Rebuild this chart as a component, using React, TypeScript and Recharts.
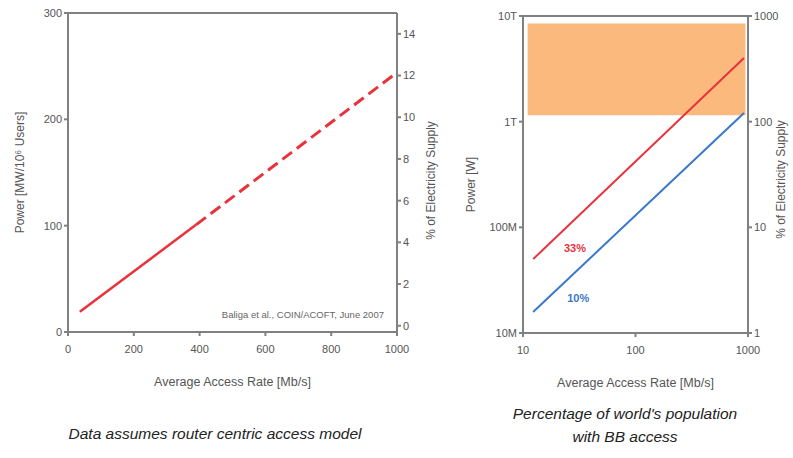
import React from 'react';
import {
  ComposedChart, Line, XAxis, YAxis, ReferenceArea, ReferenceDot, ReferenceLine,
} from 'recharts';

// ---- Left chart data ----
const leftXTicks = [0, 200, 400, 600, 800, 1000];
const leftYTicks = [0, 100, 200, 300];
const leftPctTicks = [0, 2, 4, 6, 8, 10, 12, 14];
const solidSeries = [
  { rate: 36, power: 19 },
  { rate: 390, power: 101 },
];
const dashedSeries = [
  { rate: 390, power: 101 },
  { rate: 1000, power: 244 },
];

// ---- Right chart data ----
const rightXTicks = [10, 100, 1000];
const rightYTicks = [1, 10, 100, 1000];
const rightYLabels = ['10M', '100M', '1T', '10T'];
const rightPctLabels = ['1', '10', '100', '1000'];
const series33 = [
  { rate: 12.3, power: 5.0 },
  { rate: 921, power: 400 },
];
const series10 = [
  { rate: 12.3, power: 1.58 },
  { rate: 921, power: 121 },
];
const band = { x1: 11, x2: 950, y1: 115, y2: 850 };

const FONT = '"Liberation Sans", Arial, sans-serif';
const AXIS = '#808080';
const TXT = '#555555';
const tickStyle = { fontSize: 11, fill: TXT, fontFamily: FONT };

const vlabel = (value: string, dx: number, dy = 0) => ({
  value,
  angle: -90,
  position: 'center' as const,
  dx,
  dy,
  style: { fontSize: 12, fill: TXT, fontFamily: FONT, textAnchor: 'middle' },
});

const xLabel = (value: string) => ({
  value,
  position: 'insideBottom' as const,
  offset: 8,
  style: { fontSize: 12.5, fill: TXT, fontFamily: FONT },
});

export default function App() {
  return (
    <div style={{ position: 'absolute', left: 0, top: 0, width: 793, height: 458, background: '#fff', fontFamily: FONT }}>
      <div style={{ position: 'absolute', left: 0, top: 0 }}>
        <ComposedChart width={460} height={400} margin={{ top: 13, right: 20, bottom: 6, left: 8 }}>
          <XAxis
            xAxisId="b"
            type="number"
            dataKey="rate"
            domain={[0, 1000]}
            ticks={leftXTicks}
            allowDataOverflow
            stroke={AXIS}
            strokeWidth={2}
            tick={tickStyle}
            tickSize={4}
            tickMargin={9}
            height={62}
            label={xLabel('Average Access Rate [Mb/s]')}
          />
          <YAxis
            yAxisId="l"
            type="number"
            domain={[0, 300]}
            ticks={leftYTicks}
            allowDataOverflow
            stroke={AXIS}
            strokeWidth={2}
            tick={tickStyle}
            tickSize={4}
            width={60}
            label={vlabel('Power [MW/10⁶ Users]', -18, 0)}
          />
          <YAxis
            yAxisId="r"
            orientation="right"
            type="number"
            domain={[-0.3, 15]}
            ticks={leftPctTicks}
            allowDataOverflow
            stroke={AXIS}
            strokeWidth={2}
            tick={tickStyle}
            tickSize={4}
            width={43}
            label={vlabel('% of Electricity Supply', 12, 8)}
          />
          <ReferenceLine xAxisId="b" yAxisId="l" y={300} stroke={AXIS} strokeWidth={2} />
          <Line xAxisId="b" yAxisId="l" data={solidSeries} dataKey="power" stroke="#e8323c" strokeWidth={2.5} dot={false} isAnimationActive={false} />
          <Line xAxisId="b" yAxisId="l" data={dashedSeries} dataKey="power" stroke="#e8323c" strokeWidth={3} strokeDasharray="12 6" dot={false} isAnimationActive={false} />
          <ReferenceDot
            xAxisId="b"
            yAxisId="l"
            x={714}
            y={16}
            r={0}
            label={{ value: 'Baliga et al., COIN/ACOFT, June 2007', position: 'center', style: { fontSize: 9.5, fill: '#666', fontFamily: FONT } }}
          />
        </ComposedChart>
      </div>

      <div style={{ position: 'absolute', left: 440, top: 0 }}>
        <ComposedChart width={353} height={400} margin={{ top: 16, right: 0, bottom: 5, left: 33 }}>
          <XAxis
            xAxisId="b"
            type="number"
            dataKey="rate"
            scale="log"
            domain={[10, 1000]}
            ticks={rightXTicks}
            allowDataOverflow
            stroke={AXIS}
            strokeWidth={2}
            tick={tickStyle}
            tickSize={4}
            tickMargin={9}
            height={62}
            label={xLabel('Average Access Rate [Mb/s]')}
          />
          <YAxis
            yAxisId="l"
            type="number"
            scale="log"
            domain={[1, 1000]}
            ticks={rightYTicks}
            allowDataOverflow
            stroke={AXIS}
            strokeWidth={2}
            tick={tickStyle}
            tickSize={4}
            tickFormatter={(v: number) => rightYLabels[rightYTicks.indexOf(v)] ?? ''}
            width={50}
            label={vlabel('Power [W]', -27, 10)}
          />
          <YAxis
            yAxisId="r"
            orientation="right"
            type="number"
            scale="log"
            domain={[1, 1000]}
            ticks={rightYTicks}
            allowDataOverflow
            stroke={AXIS}
            strokeWidth={2}
            tick={tickStyle}
            tickSize={4}
            tickFormatter={(v: number) => rightPctLabels[rightYTicks.indexOf(v)] ?? ''}
            width={45}
            label={vlabel('% of Electricity Supply', 10, 5)}
          />
          <ReferenceArea xAxisId="b" yAxisId="l" x1={band.x1} x2={band.x2} y1={band.y1} y2={band.y2} fill="#fbb97d" fillOpacity={1} stroke="none" />
          <ReferenceLine xAxisId="b" yAxisId="l" y={1000} stroke={AXIS} strokeWidth={2} />
          <Line xAxisId="b" yAxisId="l" data={series33} dataKey="power" stroke="#e8323c" strokeWidth={2} dot={false} isAnimationActive={false} />
          <Line xAxisId="b" yAxisId="l" data={series10} dataKey="power" stroke="#3a78c8" strokeWidth={2} dot={false} isAnimationActive={false} />
          <ReferenceDot xAxisId="b" yAxisId="l" x={29} y={6.4} r={0} label={{ value: '33%', position: 'center', style: { fontSize: 11, fill: '#e8323c', fontFamily: FONT, fontWeight: 'bold' } }} />
          <ReferenceDot xAxisId="b" yAxisId="l" x={31} y={2.14} r={0} label={{ value: '10%', position: 'center', style: { fontSize: 11, fill: '#3a78c8', fontFamily: FONT, fontWeight: 'bold' } }} />
        </ComposedChart>
      </div>

      <div style={{ position: 'absolute', left: 15, top: 425, width: 400, textAlign: 'center', fontStyle: 'italic', fontSize: 15.5, color: '#222', fontFamily: FONT }}>
        Data assumes router centric access model
      </div>
      <div style={{ position: 'absolute', left: 475, top: 402, width: 300, textAlign: 'center', fontStyle: 'italic', fontSize: 15.5, lineHeight: '23px', color: '#222', fontFamily: FONT }}>
        Percentage of world's population<br />with BB access
      </div>
    </div>
  );
}
